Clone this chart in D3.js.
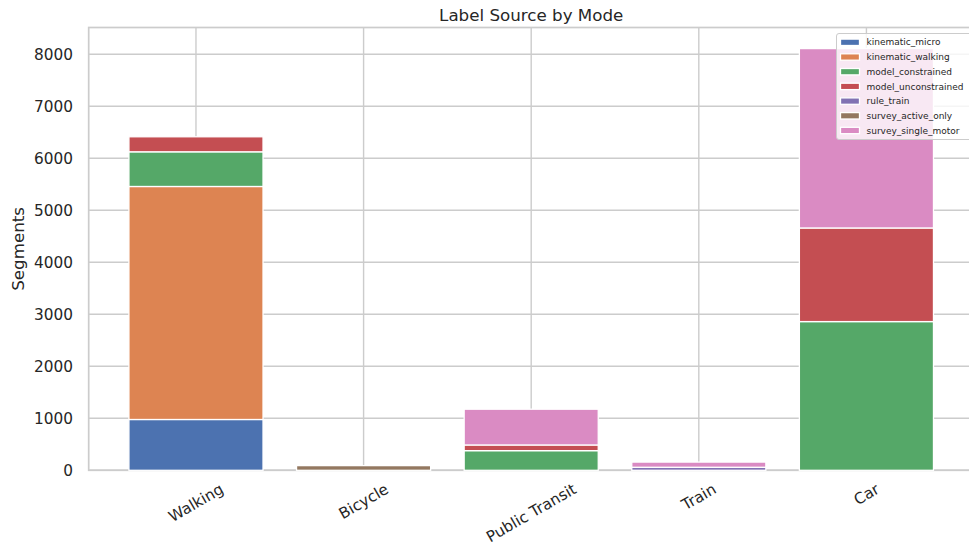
<!DOCTYPE html>
<html>
<head>
<meta charset="utf-8">
<script src="https://cdn.jsdelivr.net/npm/d3@7"></script>
<style>
  body { margin: 0; background: #fff; }
  text { font-family: "DejaVu Sans", sans-serif; fill: #262626; }
</style>
</head>
<body>
<svg id="chart" width="969" height="548"></svg>
<script>
// categories and series
const modes = ["Walking", "Bicycle", "Public Transit", "Train", "Car"];
const sources = ["kinematic_micro", "kinematic_walking", "model_constrained",
  "model_unconstrained", "rule_train", "survey_active_only", "survey_single_motor"];

const kinematic_micro     = [977, 0, 0, 0, 0];
const kinematic_walking   = [4481, 0, 0, 0, 0];
const model_constrained   = [667, 0, 378, 0, 2860];
const model_unconstrained = [289, 0, 109, 0, 1800];
const rule_train          = [0, 0, 0, 58, 0];
const survey_active_only  = [0, 90, 0, 0, 0];
const survey_single_motor = [0, 0, 688, 100, 3450];

const yTicks = [0, 1000, 2000, 3000, 4000, 5000, 6000, 7000, 8000];

// seaborn "deep"
const colors = ["#4C72B0", "#DD8452", "#55A868", "#C44E52", "#8172B3", "#937860", "#DA8BC3"];

const series = [kinematic_micro, kinematic_walking, model_constrained,
  model_unconstrained, rule_train, survey_active_only, survey_single_motor];

// build table for d3.stack
const table = modes.map(function (m, i) {
  let row = { mode: m, idx: i };
  sources.forEach(function (s, j) { row[s] = series[j][i]; });
  return row;
});

const plot = { left: 88.7, right: 973.7, top: 27.5, bottom: 470.3 };

const svg = d3.select("#chart");

let maxTotal = d3.max(table, function (d) { return d3.sum(sources, function (s) { return d[s]; }); });

let x = d3.scaleLinear()
  .domain([-0.64, modes.length - 1 + 0.64])
  .range([plot.left, plot.right]);

let y = d3.scaleLinear()
  .domain([0, maxTotal * 1.05])
  .range([plot.bottom, plot.top]);

let color = d3.scaleOrdinal().domain(sources).range(colors);

// grid
let grid = svg.append("g");
grid.selectAll("line.h")
  .data(yTicks)
  .enter()
  .append("line")
  .attr("x1", plot.left).attr("x2", plot.right)
  .attr("y1", function (d) { return y(d); })
  .attr("y2", function (d) { return y(d); })
  .attr("stroke", "#cccccc")
  .attr("stroke-width", 1.4);

grid.selectAll("line.v")
  .data(modes)
  .enter()
  .append("line")
  .attr("x1", function (d, i) { return x(i); })
  .attr("x2", function (d, i) { return x(i); })
  .attr("y1", plot.top).attr("y2", plot.bottom)
  .attr("stroke", "#cccccc")
  .attr("stroke-width", 1.4);

// spines
svg.append("rect")
  .attr("x", plot.left).attr("y", plot.top)
  .attr("width", plot.right - plot.left)
  .attr("height", plot.bottom - plot.top)
  .attr("fill", "none")
  .attr("stroke", "#cccccc")
  .attr("stroke-width", 1.7);

// stacked bars
let stacked = d3.stack().keys(sources)(table);

let layers = svg.append("g").selectAll("g")
  .data(stacked)
  .enter()
  .append("g")
  .attr("fill", function (d) { return color(d.key); });

layers.selectAll("rect")
  .data(function (d) { return d.filter(function (p) { return p[1] - p[0] > 0; }); })
  .enter()
  .append("rect")
  .attr("x", function (d) { return x(d.data.idx - 0.4); })
  .attr("width", x(0.4) - x(-0.4))
  .attr("y", function (d) { return y(d[1]); })
  .attr("height", function (d) { return y(d[0]) - y(d[1]); })
  .attr("stroke", "#ffffff")
  .attr("stroke-width", 1.3);

// y tick labels
svg.append("g").selectAll("text")
  .data(yTicks)
  .enter()
  .append("text")
  .attr("x", 73)
  .attr("y", function (d) { return y(d); })
  .attr("dy", "0.36em")
  .style("text-anchor", "end")
  .style("font-size", "15.3px")
  .text(function (d) { return d; });

// x tick labels, rotated 30 degrees
let xlab = svg.append("g").selectAll("text")
  .data(modes)
  .enter()
  .append("text")
  .style("text-anchor", "middle")
  .style("font-size", "15.3px")
  .attr("dy", "0.35em")
  .text(function (d) { return d; });

xlab.each(function (d, i) {
  let len = this.getComputedTextLength();
  let h = len * 0.5 + 15.3 * 0.866;
  let cx = x(i), cy = 481 + h / 2;
  d3.select(this)
    .attr("x", cx).attr("y", cy)
    .attr("transform", `rotate(-30, ${cx}, ${cy})`);
});

// axis label
svg.append("text")
  .attr("transform", `translate(24, ${(plot.top + plot.bottom) / 2}) rotate(-90)`)
  .style("text-anchor", "middle")
  .style("font-size", "16.7px")
  .text("Segments");

// title
svg.append("text")
  .attr("x", (plot.left + plot.right) / 2)
  .attr("y", 21)
  .style("text-anchor", "middle")
  .style("font-size", "16.7px")
  .text("Label Source by Mode");

// legend
let legend = svg.append("g");
legend.append("rect")
  .attr("x", 836.5).attr("y", 33.5)
  .attr("width", 140).attr("height", 106)
  .attr("rx", 2.5)
  .attr("fill", "#ffffff")
  .attr("fill-opacity", 0.8)
  .attr("stroke", "#cccccc")
  .attr("stroke-width", 1);

let rows = legend.selectAll("g.row")
  .data(sources)
  .enter()
  .append("g")
  .attr("transform", function (d, i) { return `translate(0, ${42.3 + i * 14.7})`; });

rows.append("rect")
  .attr("x", 840.5).attr("y", -3.2)
  .attr("width", 19).attr("height", 6.4)
  .attr("fill", function (d) { return color(d); })
  .attr("stroke", "#ffffff")
  .attr("stroke-width", 1.3);

rows.append("text")
  .attr("x", 866.5)
  .attr("dy", "0.35em")
  .style("font-size", "9px")
  .text(function (d) { return d; });
</script>
</body>
</html>
